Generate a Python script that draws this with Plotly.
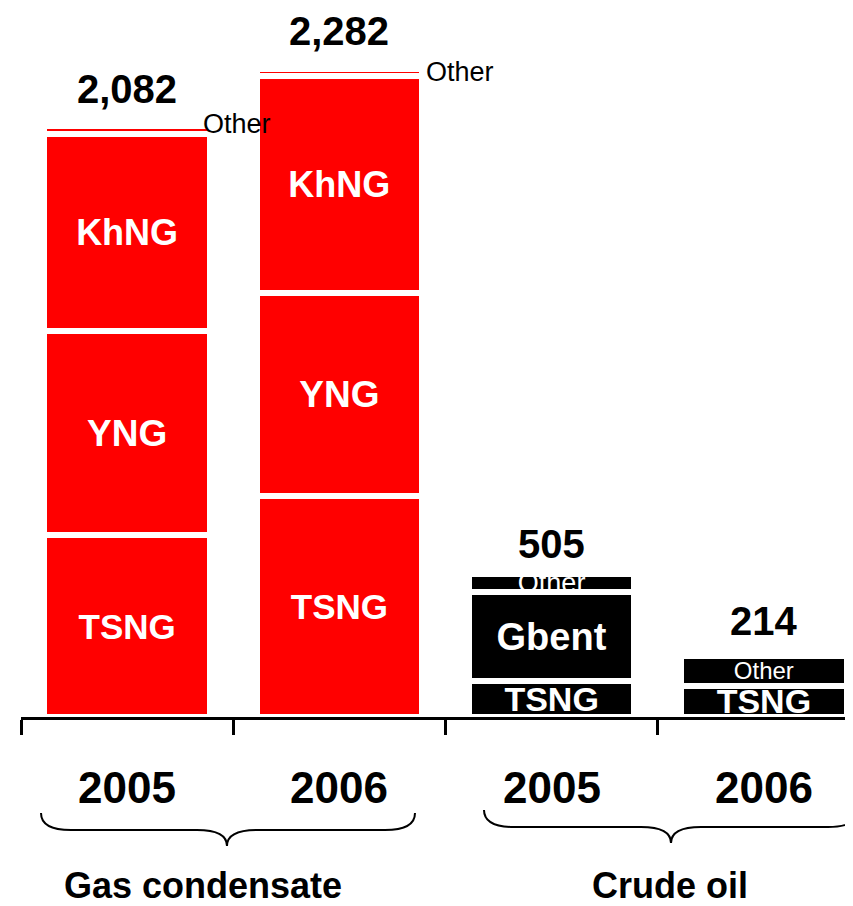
import plotly.graph_objects as go

# ---------------- data ----------------
categories = ["Gas condensate 2005", "Gas condensate 2006", "Crude oil 2005", "Crude oil 2006"]
years = ["2005", "2006", "2005", "2006"]
products = ["gas", "gas", "oil", "oil"]
groups = ["Gas condensate", "Crude oil"]

tsng = [640, 777, 127, 111]
yng = [719, 716, None, None]
khng = [695, 765, None, None]
gbent = [None, None, 313, None]
other = [28, 24, 65, 103]
totals = [2082, 2282, 505, 214]

series_names = ["TSNG", "YNG", "KhNG", "Gbent", "Other"]
series_values = [tsng, yng, khng, gbent, other]

# ---------------- styles ----------------
FONT = "Liberation Sans, Arial, sans-serif"
product_colors = {"gas": "#FF0000", "oil": "#000000"}
text_sizes = {
    "TSNG": [35, 35, 34, 34],
    "YNG": [37, 37, 37, 37],
    "KhNG": [36, 36, 36, 36],
    "Gbent": [38, 38, 38, 38],
    "Other": [20, 20, 27, 24],
}

# page body has an 8px margin: figure origin sits at (8, 8) of the window
OFF = 8
W, H = 853 - OFF, 906 - OFF
ML, MR, MT, MB = 13, 0, 0, 189
PW, PH = W - ML - MR, H - MT - MB
PX_PER_UNIT = 0.2838
Y_MAX = PH / PX_PER_UNIT


def px(xp):
    """reference window x pixel -> paper x"""
    return (xp - OFF - ML) / PW


def py(yp):
    """reference window y pixel -> paper y"""
    return (H - MB - (yp - OFF)) / PH


xs = list(range(len(categories)))
bar_colors = [product_colors[p] for p in products]

fig = go.Figure()
for name, vals in zip(series_names, series_values):
    texts = []
    for v, p in zip(vals, products):
        if v is None:
            texts.append("")
        elif name == "Other":
            texts.append("" if p == "gas" else name)
        else:
            texts.append("<b>%s</b>" % name)
    fig.add_bar(
        x=xs, y=vals, name=name, text=texts,
        textposition="inside", insidetextanchor="middle", textangle=0,
        constraintext="none",
        textfont=dict(color="white", size=text_sizes[name], family=FONT),
        marker=dict(color=bar_colors, line=dict(color="white", width=6)),
        width=0.78, hoverinfo="skip",
    )

annotations = []
# totals above bars
total_yshift = [13, 14, 6, 11]
for i, t in enumerate(totals):
    annotations.append(dict(x=xs[i], y=t, xref="x", yref="y", text="<b>%s</b>" % format(t, ","),
                            showarrow=False, xanchor="center", yanchor="bottom",
                            yshift=total_yshift[i],
                            font=dict(size=40, color="black", family=FONT)))
# outside "Other" labels for gas condensate
other_dx = [0.35, 0.40]
other_dy = [6, 1]
k = 0
for i, p in enumerate(products):
    if p == "gas":
        base = sum(v for v in (tsng[i], yng[i], khng[i], gbent[i]) if v is not None)
        annotations.append(dict(x=xs[i] + other_dx[k], y=base + other[i] / 2, xref="x", yref="y",
                                text="Other", showarrow=False, xanchor="left", yanchor="middle",
                                yshift=other_dy[k], font=dict(size=27, color="black", family=FONT)))
        k += 1
# year labels
for i, yl in enumerate(years):
    annotations.append(dict(x=xs[i], y=py(787), xref="x", yref="paper", text="<b>%s</b>" % yl,
                            showarrow=False, xanchor="center", yanchor="middle",
                            font=dict(size=44, color="black", family=FONT)))
# group labels
group_px = [203, 670]
for g, gx in zip(groups, group_px):
    annotations.append(dict(x=px(gx), y=py(885), xref="paper", yref="paper", text="<b>%s</b>" % g,
                            showarrow=False, xanchor="center", yanchor="middle",
                            font=dict(size=36, color="black", family=FONT)))


def brace(x0, x1, ytop, ys, ypt, mid, rx=30, rm=30):
    pts = [
        ("M", [(x0, ytop)]),
        ("Q", [(x0, ys), (x0 + rx, ys)]),
        ("L", [(mid - rm, ys)]),
        ("Q", [(mid, ys), (mid, ypt)]),
        ("Q", [(mid, ys), (mid + rm, ys)]),
        ("L", [(x1 - rx, ys)]),
        ("Q", [(x1, ys), (x1, ytop)]),
    ]
    s = ""
    for cmd, coords in pts:
        s += cmd + " " + " ".join("%.5f,%.5f" % (px(a), py(b)) for a, b in coords) + " "
    return s.strip()


shapes = [
    dict(type="path", xref="paper", yref="paper", path=brace(41, 415, 813, 830, 846, 227),
         line=dict(color="black", width=2)),
    dict(type="path", xref="paper", yref="paper", path=brace(484, 858, 810, 827, 843, 671),
         line=dict(color="black", width=2)),
]

fig.update_layout(
    width=W, height=H,
    margin=dict(l=ML, r=MR, t=MT, b=MB, pad=0),
    barmode="stack", showlegend=False,
    plot_bgcolor="white", paper_bgcolor="white",
    font=dict(family=FONT, color="black"),
    xaxis=dict(range=[-0.5, 3.42], tickvals=[-0.5, 0.5, 1.5, 2.5], ticktext=["", "", "", ""],
               ticks="outside", ticklen=15, tickwidth=3, tickcolor="black",
               showline=True, linewidth=3, linecolor="black",
               showgrid=False, zeroline=False, fixedrange=True),
    yaxis=dict(range=[0, Y_MAX], visible=False, fixedrange=True),
    annotations=annotations, shapes=shapes,
)

fig.write_html("out.html")
